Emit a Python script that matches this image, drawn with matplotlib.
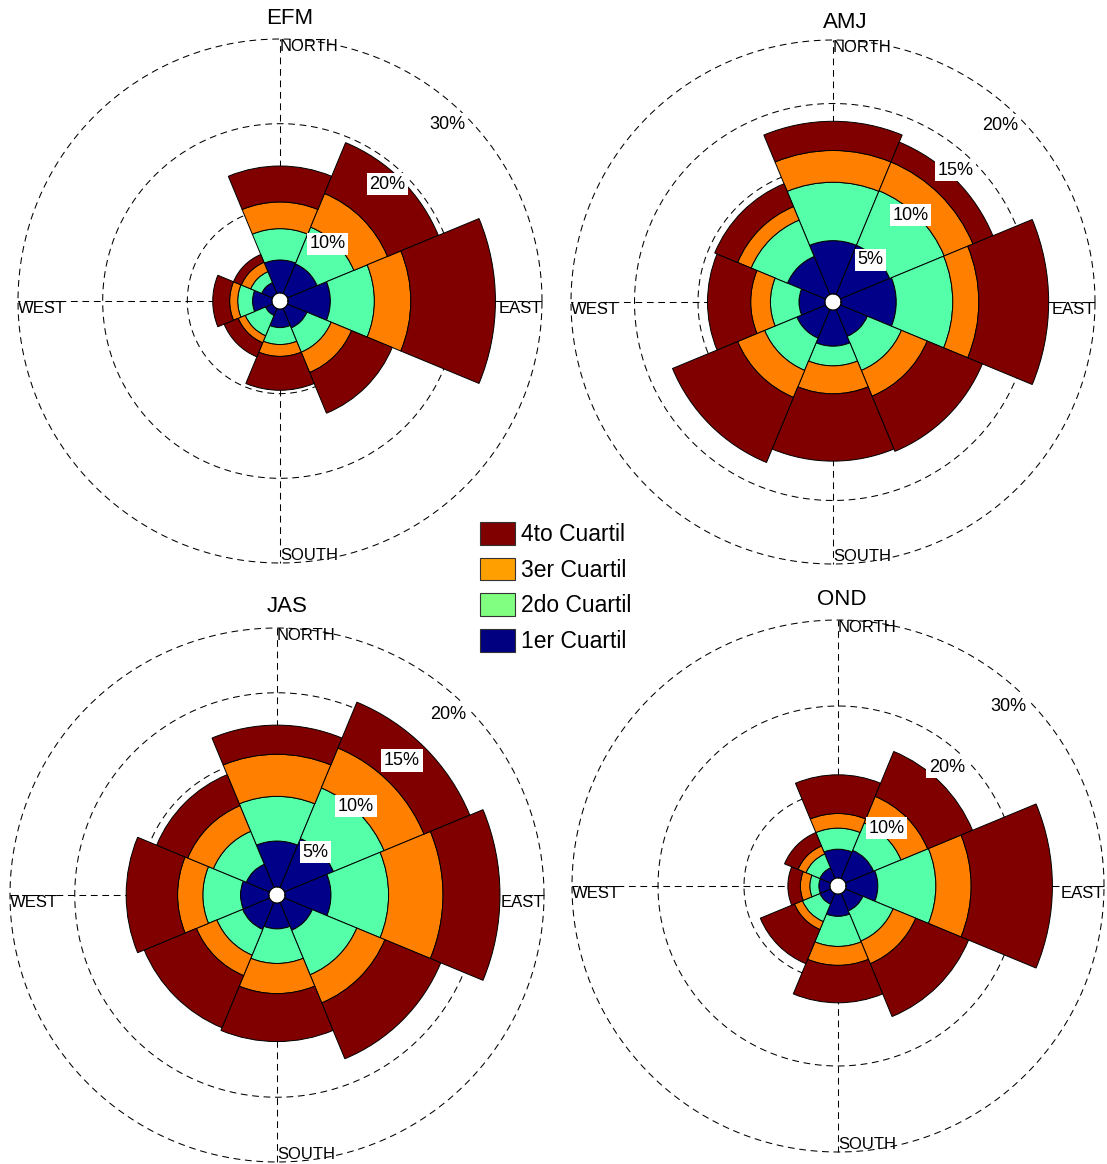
import numpy as np
import matplotlib
matplotlib.use('Agg')
import matplotlib.pyplot as plt
from matplotlib.patches import Patch

plt.rcParams['font.family'] = ['Liberation Sans', 'DejaVu Sans']

# ---- data (cumulative % per direction, quartiles stacked) ----
directions = ['N', 'NE', 'E', 'SE', 'S', 'SW', 'W', 'NW']
quartile_labels = ['1er Cuartil', '2do Cuartil', '3er Cuartil', '4to Cuartil']

EFM_Q1 = [3.9, 3.8, 5.0, 2.5, 2.2, 0.9, 2.3, 1.4]
EFM_Q2 = [7.6, 8.5, 10.2, 5.6, 4.2, 3.5, 4.05, 2.8]
EFM_Q3 = [10.75, 12.8, 14.5, 8.2, 5.6, 4.4, 5.0, 4.0]
EFM_Q4 = [15.0, 19.3, 24.5, 13.4, 9.6, 6.2, 7.0, 5.0]

AMJ_Q1 = [4.2, 4.2, 4.35, 2.3, 2.85, 2.45, 2.05, 3.25]
AMJ_Q2 = [8.8, 8.85, 8.8, 5.2, 4.4, 5.2, 4.3, 6.35]
AMJ_Q3 = [11.3, 11.3, 10.85, 7.4, 6.6, 7.5, 5.85, 7.5]
AMJ_Q4 = [13.6, 13.0, 16.35, 12.1, 11.9, 13.05, 9.25, 9.45]

JAS_Q1 = [3.55, 4.1, 3.55, 2.33, 2.0, 2.26, 2.2, 1.95]
JAS_Q2 = [7.0, 8.33, 8.0, 6.05, 4.67, 4.41, 5.11, 4.7]
JAS_Q3 = [10.25, 11.67, 12.2, 8.4, 7.0, 6.12, 7.06, 6.85]
JAS_Q4 = [12.5, 15.5, 16.6, 13.07, 10.7, 10.48, 11.03, 9.44]

OND_Q1 = [3.35, 3.55, 3.7, 2.2, 2.6, 1.35, 1.3, 1.35]
OND_Q2 = [5.8, 7.0, 10.45, 6.0, 6.1, 3.55, 2.35, 3.1]
OND_Q3 = [7.5, 10.35, 14.55, 8.85, 8.3, 4.55, 3.45, 4.1]
OND_Q4 = [12.0, 16.0, 24.0, 15.5, 12.65, 8.85, 4.9, 5.8]

rings_30 = [10, 20, 30]
rings_20 = [5, 10, 15, 20]

bar_colors = ['#000088', '#55FFAA', '#FF8000', '#800000']
legend_colors = ['#800000', '#FFA000', '#80FF80', '#000080']

W, H = 1107, 1164
fig = plt.figure(figsize=(W / 100, H / 100), dpi=100)

DASH = (0, (6.5, 4.5))


def rose(title, quartiles, center, R, rings, title_xy):
    cx, cy = center
    rmax = rings[-1]
    ax = fig.add_axes([(cx - R) / W, (H - cy - R) / H, 2 * R / W, 2 * R / H],
                      projection='polar')
    hole_px = 8.0
    k = (R - hole_px) / rmax
    ax.set_theta_zero_location('E')
    ax.set_ylim(0, rmax)
    ax.set_rorigin(-hole_px / k)
    ax.grid(False)
    ax.set_xticks([])
    ax.set_yticks([])
    ax.spines['polar'].set_visible(False)
    ax.patch.set_alpha(0)

    theta = np.deg2rad(90 - 45 * np.arange(len(directions)))
    width = np.deg2rad(45)
    bottom = np.zeros(len(directions))
    for q, c in zip(quartiles, bar_colors):
        q = np.asarray(q, dtype=float)
        ax.bar(theta, q - bottom, width=width, bottom=bottom, color=c,
               edgecolor='black', linewidth=0.7, zorder=2, align='center')
        bottom = q

    t = np.linspace(0, 2 * np.pi, 500)
    for r in rings:
        ax.plot(t, np.full_like(t, r), color='black', lw=0.75, ls=DASH,
                zorder=0.5, clip_on=False)
    for a in [0, 90, 180, 270]:
        ax.plot([np.deg2rad(a)] * 2, [0, rmax], color='black', lw=0.75,
                ls=DASH, zorder=0.5, clip_on=False)

    for r in rings:
        ax.text(np.deg2rad(45), r, f'{r}%', ha='right', va='top', fontsize=13,
                zorder=3,
                bbox=dict(facecolor='white', edgecolor='none',
                          boxstyle='square,pad=0.15'))

    fs = 12
    ax.text(np.pi / 2, rmax, 'NORTH', ha='left', va='top', fontsize=fs, zorder=3)
    ax.text(3 * np.pi / 2, rmax, 'SOUTH', ha='left', va='bottom', fontsize=fs, zorder=3)
    ax.text(np.pi, rmax, 'WEST', ha='left', va='top', fontsize=fs, zorder=3)
    ax.text(0, rmax, 'EAST', ha='right', va='top', fontsize=fs, zorder=3)

    fig.text(title_xy[0] / W, 1 - title_xy[1] / H, title, ha='center',
             va='center', fontsize=16)
    return ax


rose('EFM', [EFM_Q1, EFM_Q2, EFM_Q3, EFM_Q4], (280, 301), 262, rings_30, (290, 18))
rose('AMJ', [AMJ_Q1, AMJ_Q2, AMJ_Q3, AMJ_Q4], (833, 302), 262, rings_20, (845, 23))
rose('JAS', [JAS_Q1, JAS_Q2, JAS_Q3, JAS_Q4], (277, 895), 267, rings_20, (287, 606))
rose('OND', [OND_Q1, OND_Q2, OND_Q3, OND_Q4], (838, 886), 266, rings_30, (842, 600))

handles = [Patch(facecolor=c, edgecolor='#333333', linewidth=0.8)
           for c in legend_colors]
labels = quartile_labels[::-1]
fs_leg = 16.5
em = fs_leg * 100 / 72
fig.legend(handles, labels, loc='upper left',
           bbox_to_anchor=(480 / W, 1 - 522 / H), frameon=False,
           borderaxespad=0, borderpad=0, fontsize=fs_leg,
           handlelength=35 / em, handleheight=1.15,
           handletextpad=6 / em, labelspacing=0.5)

fig.savefig('out.png', dpi=100, facecolor='white')
